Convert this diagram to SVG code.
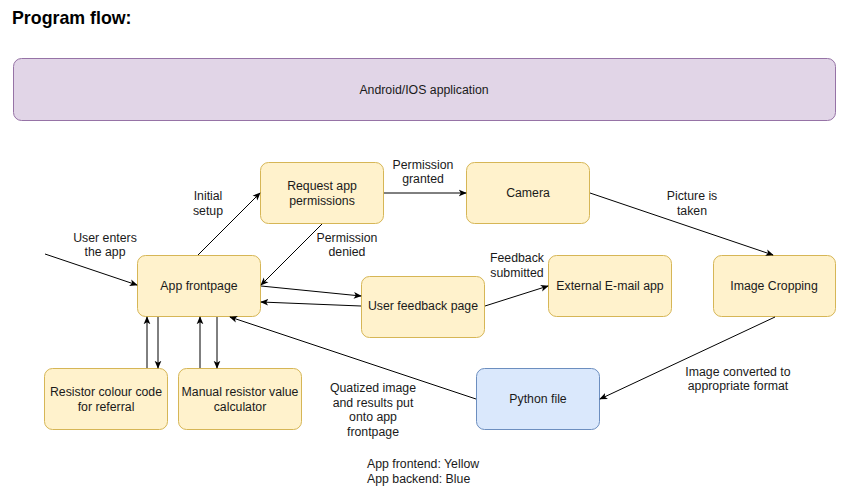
<svg xmlns="http://www.w3.org/2000/svg" width="846" height="490" viewBox="0 0 846 490">
<defs>
<marker id="arr" viewBox="0 0 10 10" refX="9" refY="5" markerWidth="8" markerHeight="8" markerUnits="userSpaceOnUse" orient="auto">
<path d="M0,0.8 L10,5 L0,9.2 L2.5,5 z" fill="#000"/>
</marker>
<style>
.y{fill:#fff2cc;stroke:#d6b656;stroke-width:1}
.b{fill:#dae8fc;stroke:#6c8ebf;stroke-width:1}
.p{fill:#e1d5e7;stroke:#9673a6;stroke-width:1}
text{font-family:"Liberation Sans",Arial,sans-serif;font-size:12.3px;fill:#1a1a1a}
.c{text-anchor:middle}
.e{fill:none;stroke:#000;stroke-width:1;marker-end:url(#arr)}
</style>
</defs>
<rect width="846" height="490" fill="#fff"/>
<text x="12" y="24" style="font-size:17.8px;font-weight:bold;fill:#000">Program flow:</text>
<g id="android">
<rect class="p" x="13.5" y="58.5" width="822" height="62" rx="8"/>
<text class="c" x="424" y="94">Android/IOS application</text>
</g>
<g id="request">
<rect class="y" x="260.5" y="162.5" width="123" height="61" rx="8"/>
<text class="c" x="322" y="190">Request app</text>
<text class="c" x="322" y="205">permissions</text>
</g>
<g id="camera">
<rect class="y" x="466.5" y="162.5" width="123" height="61" rx="8"/>
<text class="c" x="528" y="197">Camera</text>
</g>
<g id="frontpage">
<rect class="y" x="137.5" y="255.5" width="123" height="61" rx="8"/>
<text class="c" x="199" y="290">App frontpage</text>
</g>
<g id="feedback">
<rect class="y" x="361.5" y="276.5" width="123" height="61" rx="8"/>
<text class="c" x="423" y="310">User feedback page</text>
</g>
<g id="email">
<rect class="y" x="548.5" y="255.5" width="123" height="61" rx="8"/>
<text class="c" x="610" y="290">External E-mail app</text>
</g>
<g id="cropping">
<rect class="y" x="713.5" y="255.5" width="122" height="61" rx="8"/>
<text class="c" x="774" y="290">Image Cropping</text>
</g>
<g id="resistor">
<rect class="y" x="44.5" y="368.5" width="123" height="61" rx="8"/>
<text class="c" x="106" y="396">Resistor colour code</text>
<text class="c" x="106" y="411">for referral</text>
</g>
<g id="manual">
<rect class="y" x="178.5" y="368.5" width="123" height="61" rx="8"/>
<text class="c" x="240" y="396">Manual resistor value</text>
<text class="c" x="240" y="411">calculator</text>
</g>
<g id="python">
<rect class="b" x="476.5" y="368.5" width="123" height="61" rx="8"/>
<text class="c" x="538" y="403">Python file</text>
</g>
<g id="connectors">
<path class="e" d="M45,254 L137,285"/>
<path class="e" d="M198,255 L260,193"/>
<path class="e" d="M322,224 L261,285"/>
<path class="e" d="M384,193 L466,193"/>
<path class="e" d="M590,193 L773,255"/>
<path class="e" d="M261,286 L361,296"/>
<path class="e" d="M361,306 L261,302"/>
<path class="e" d="M485,306 L548,286"/>
<path class="e" d="M775,317 L600,399"/>
<path class="e" d="M476,399 L230,317"/>
<path class="e" d="M147,368 L147,317"/>
<path class="e" d="M158,317 L158,368"/>
<path class="e" d="M200,368 L200,317"/>
<path class="e" d="M217,317 L217,368"/>
</g>
<g id="labels">
<text class="c" x="105" y="242">User enters</text>
<text class="c" x="105" y="256">the app</text>
<text class="c" x="208" y="200">Initial</text>
<text class="c" x="208" y="215">setup</text>
<text class="c" x="347" y="242">Permission</text>
<text class="c" x="347" y="256">denied</text>
<text class="c" x="423" y="169">Permission</text>
<text class="c" x="423" y="183">granted</text>
<text class="c" x="692" y="200">Picture is</text>
<text class="c" x="692" y="215">taken</text>
<text class="c" x="517" y="262">Feedback</text>
<text class="c" x="517" y="277">submitted</text>
<text class="c" x="738" y="376">Image converted to</text>
<text class="c" x="738" y="390">appropriate format</text>
<text class="c" x="373" y="392">Quatized image</text>
<text class="c" x="373" y="407">and results put</text>
<text class="c" x="373" y="421">onto app</text>
<text class="c" x="373" y="436">frontpage</text>
<text x="367" y="468">App frontend: Yellow</text>
<text x="367" y="483">App backend: Blue</text>
</g>
</svg>
